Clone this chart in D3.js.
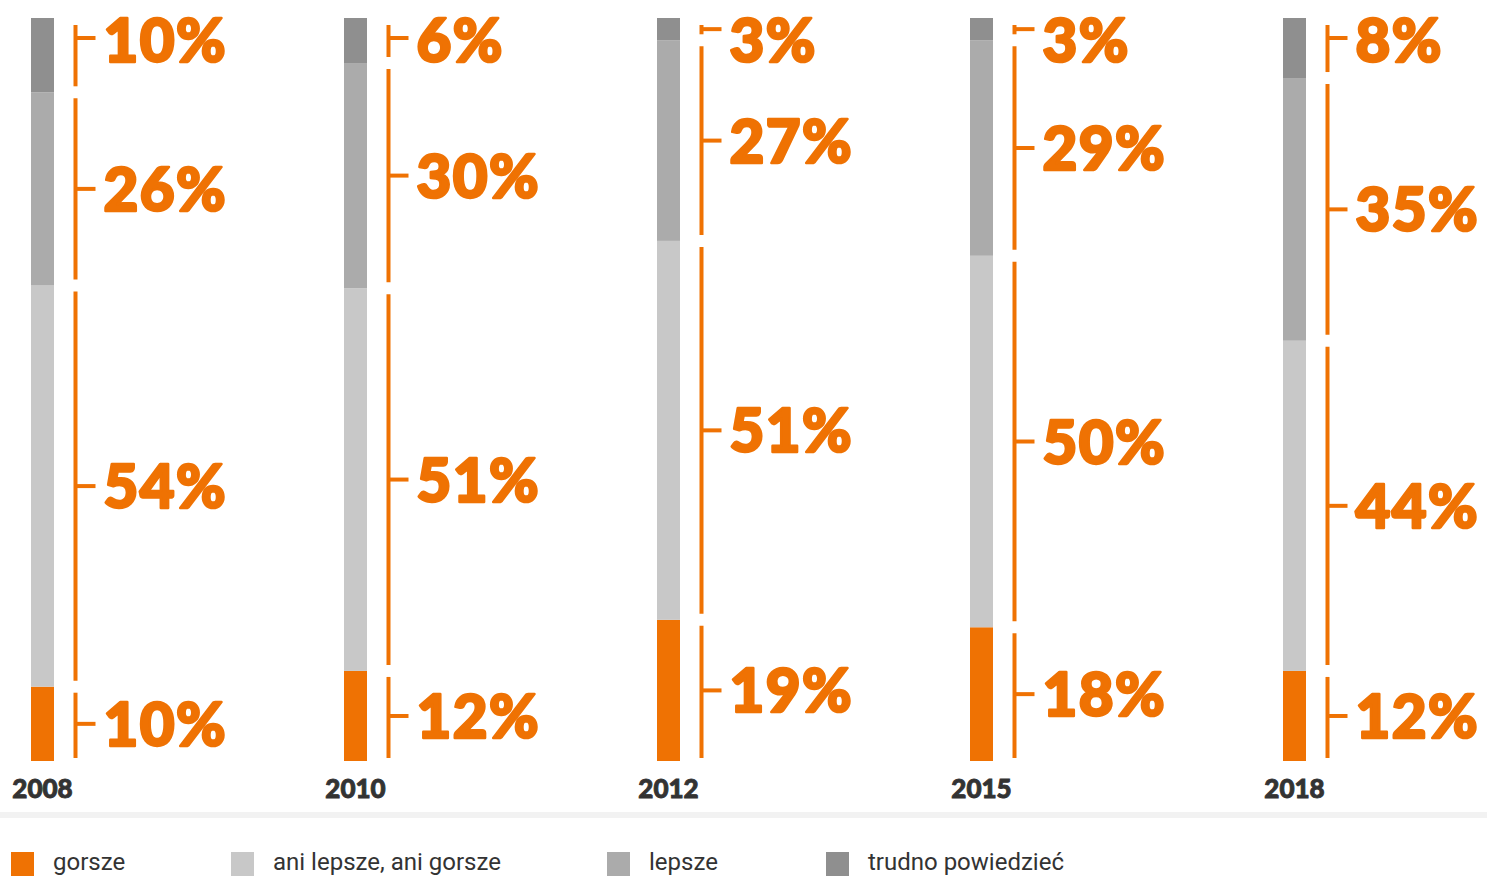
<!DOCTYPE html>
<html><head><meta charset="utf-8">
<script src="https://cdn.jsdelivr.net/npm/d3@7"></script>
<style>html,body{margin:0;padding:0;background:#fff;}svg{display:block;}</style>
</head><body>
<svg id="chart" width="1487" height="876"></svg>
<script>
const years = ["2008", "2010", "2012", "2015", "2018"];
const seriesNames = ["gorsze", "ani lepsze, ani gorsze", "lepsze", "trudno powiedzieć"];
const gorsze = [10, 12, 19, 18, 12];
const ani = [54, 51, 51, 50, 44];
const lepsze = [26, 30, 27, 29, 35];
const trudno = [10, 6, 3, 3, 8];
const colors = ["#ef7203", "#c8c8c8", "#ababab", "#8f8f8f"];

const series = [gorsze, ani, lepsze, trudno];
const svg = d3.select("#chart");
const W = 1487, H = 876;
const orange = "#ef7203";

const barW = 23;
const x = d3.scalePoint().domain(years).range([31, 1283]);
const y = d3.scaleLinear().domain([0, 1]).range([761, 18]);

const labelFont = "Lato, 'Open Sans', sans-serif";
const topRowY = 40;

years.forEach((yr, i) => {
  const vals = series.map(s => s[i]);
  const total = d3.sum(vals);
  let cum = 0;
  const segs = vals.map((v, k) => {
    const s = {k, v, y0: cum / total, y1: (cum + v) / total};
    cum += v;
    return s;
  });
  const g = svg.append("g");
  const bx = x(yr);
  g.selectAll("rect.seg").data(segs).join("rect")
    .attr("class", "seg")
    .attr("x", bx).attr("width", barW)
    .attr("y", d => y(d.y1)).attr("height", d => y(d.y0) - y(d.y1))
    .attr("fill", d => colors[d.k]);
  const lx = bx + barW + 21.5;
  segs.forEach((d, idx) => {
    const isTop = idx === segs.length - 1;
    const isBottom = idx === 0;
    const top = y(d.y1) + (isTop ? 7 : 6);
    const bot = y(d.y0) - (isBottom ? 3 : 6);
    g.append("line").attr("x1", lx).attr("x2", lx).attr("y1", top).attr("y2", bot)
      .attr("stroke", orange).attr("stroke-width", 4);
    const mid = (y(d.y0) + y(d.y1)) / 2;
    let tickY = isTop ? Math.min(mid, 38) : mid;
    tickY = Math.max(top + 2, Math.min(bot - 2, tickY));
    const labY = isTop ? topRowY : mid;
    g.append("line").attr("x1", lx).attr("x2", lx + 20).attr("y1", tickY).attr("y2", tickY)
      .attr("stroke", orange).attr("stroke-width", 4);
    g.append("text").attr("x", lx + 28).attr("y", labY + 22)
      .attr("fill", orange).attr("stroke", orange).attr("stroke-width", 2.6)
      .attr("stroke-linejoin", "round")
      .attr("font-family", labelFont).attr("font-weight", 900)
      .attr("font-size", 60).attr("letter-spacing", 1.5).text(d.v + "%");
  });
  svg.append("text").attr("x", bx + barW / 2).attr("y", 798)
    .attr("text-anchor", "middle").attr("fill", "#333")
    .attr("stroke", "#333").attr("stroke-width", 0.9)
    .attr("font-family", labelFont).attr("font-weight", 900).attr("font-size", 26)
    .text(yr);
});

svg.append("rect").attr("x", 0).attr("y", 812).attr("width", W).attr("height", 6).attr("fill", "#f2f2f2");

const legX = [11, 231, 607, 826];
const lg = svg.selectAll("g.leg").data(seriesNames).join("g").attr("class", "leg")
  .attr("transform", (d, i) => `translate(${legX[i]},852)`);
lg.append("rect").attr("width", 23).attr("height", 24).attr("fill", (d, i) => colors[i]);
lg.append("text").attr("x", 42).attr("y", 18).attr("fill", "#333")
  .attr("font-family", "Roboto, sans-serif").attr("font-weight", 400).attr("font-size", 24)
  .text(d => d);
</script>
</body></html>
